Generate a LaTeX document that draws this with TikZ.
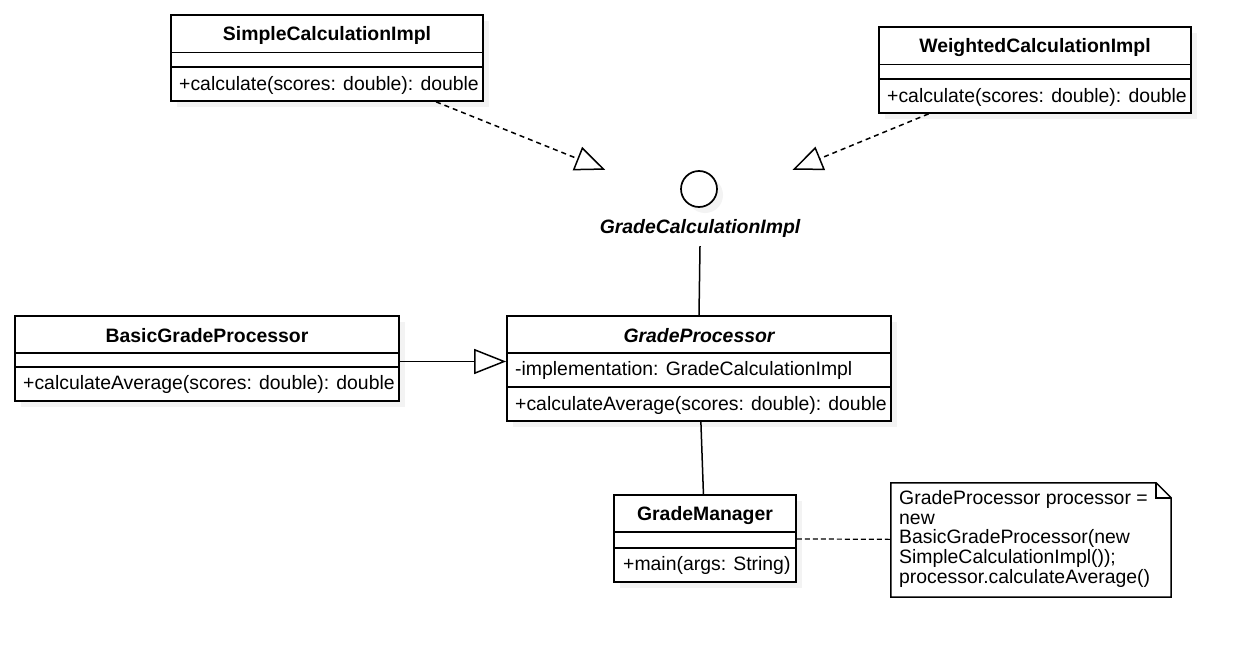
\documentclass[tikz,border=0pt]{standalone}
\usepackage{fontspec}
\setmainfont{Liberation Sans}
\usetikzlibrary{arrows.meta,shadows}

\tikzset{
  classbox/.style={draw, line width=1.7pt, fill=white, inner sep=0pt,
    drop shadow={shadow xshift=6pt, shadow yshift=-6pt, fill=black!9}},
  part/.style={line width=1.7pt},
  classtitle/.style={inner sep=0pt, yshift=-2pt, font=\fontsize{19.4}{23}\selectfont\bfseries},
  abstracttitle/.style={classtitle, font=\fontsize{19.4}{23}\selectfont\bfseries\itshape},
  member/.style={inner sep=0pt, anchor=west, yshift=-1.5pt, font=\fontsize{19.4}{23}\selectfont},
  link/.style={line width=1.5pt},
  realize/.style={link, dash pattern=on 5pt off 4pt,
    -{Triangle[open, length=30pt, width=25pt, line width=1.5pt]}},
  generalize/.style={link, -{Triangle[open, length=32pt, width=25pt, line width=1.5pt]}},
  notelink/.style={line width=1.2pt, dash pattern=on 5pt off 3pt},
}

\begin{document}
\begin{tikzpicture}[x=1pt, y=-1pt]
  \useasboundingbox[fill=white] (0,0) rectangle (1252,658);

  %% SimpleCalculationImpl
  \node[classbox, minimum width=312pt, minimum height=86pt] (simple) at (327,58) {};
  \draw[part] (simple.west |- 0,52.5) -- (simple.east |- 0,52.5);
  \draw[part] (simple.west |- 0,67) -- (simple.east |- 0,67);
  \node[classtitle] (simpletitle) at (327,33.5) {SimpleCalculationImpl};
  \node[member] (simplecalc) at (179,84) {+calculate(scores: double): double};

  %% WeightedCalculationImpl
  \node[classbox, minimum width=312pt, minimum height=86pt] (weighted) at (1035,70) {};
  \draw[part] (weighted.west |- 0,64.5) -- (weighted.east |- 0,64.5);
  \draw[part] (weighted.west |- 0,79) -- (weighted.east |- 0,79);
  \node[classtitle] (weightedtitle) at (1035,45.5) {WeightedCalculationImpl};
  \node[member] (weightedcalc) at (887,96) {+calculate(scores: double): double};

  %% interface GradeCalculationImpl
  \node[inner sep=0pt, minimum width=192pt, minimum height=76pt] (gci) at (700,208) {};
  \node[circle, draw, line width=1.7pt, fill=white, minimum size=36pt, inner sep=0pt,
    drop shadow={shadow xshift=6pt, shadow yshift=-6pt, fill=black!9}] (gcicircle) at (699,189) {};
  \node[abstracttitle] (gcilabel) at (700,226) {GradeCalculationImpl};

  %% BasicGradeProcessor
  \node[classbox, minimum width=384pt, minimum height=85pt] (basic) at (207,358.5) {};
  \draw[part] (basic.west |- 0,353) -- (basic.east |- 0,353);
  \draw[part] (basic.west |- 0,367) -- (basic.east |- 0,367);
  \node[classtitle] (basictitle) at (207,334) {BasicGradeProcessor};
  \node[member] (basiccalc) at (23,383) {+calculateAverage(scores: double): double};

  %% GradeProcessor
  \node[classbox, minimum width=384pt, minimum height=105pt] (proc) at (699,368.5) {};
  \draw[part] (proc.west |- 0,353) -- (proc.east |- 0,353);
  \draw[part] (proc.west |- 0,387) -- (proc.east |- 0,387);
  \node[abstracttitle] (proctitle) at (699,334) {GradeProcessor};
  \node[member] (procimpl) at (515,368.5) {-implementation: GradeCalculationImpl};
  \node[member] (proccalc) at (515,403.5) {+calculateAverage(scores: double): double};

  %% GradeManager
  \node[classbox, minimum width=182pt, minimum height=87pt] (manager) at (705,538.5) {};
  \draw[part] (manager.west |- 0,532) -- (manager.east |- 0,532);
  \draw[part] (manager.west |- 0,548) -- (manager.east |- 0,548);
  \node[classtitle] (managertitle) at (705,514) {GradeManager};
  \node[member] (managermain) at (623,564) {+main(args: String)};

  %% note
  \node[inner sep=0pt, minimum width=280pt, minimum height=114pt] (note) at (1031,540) {};
  \draw[line width=1.5pt, fill=white] (note.north west) -- ([xshift=-15pt]note.north east)
    -- ([yshift=-15pt]note.north east) -- (note.south east) -- (note.south west) -- cycle;
  \draw[line width=1.5pt] ([xshift=-15pt]note.north east) -- ([xshift=-15pt,yshift=-15pt]note.north east)
    -- ([yshift=-15pt]note.north east);
  \node[inner sep=0pt, anchor=north west, align=left, font=\fontsize{19.4}{19.8}\selectfont]
    (notetext) at (899,490) {GradeProcessor processor =\\new\\BasicGradeProcessor(new\\SimpleCalculationImpl());\\processor.calculateAverage()};

  %% connectors
  \draw[realize] (simple) -- (gci);
  \draw[realize] (weighted) -- (gci);
  \draw[link] (gci.south) -- (proc.north);
  \draw[generalize] ([yshift=-3pt]basic.east) -- ([yshift=-3pt]basic.east -| proc.west);
  \draw[link] (proc) -- (manager);
  \draw[notelink] (manager) -- (note);
\end{tikzpicture}
\end{document}
